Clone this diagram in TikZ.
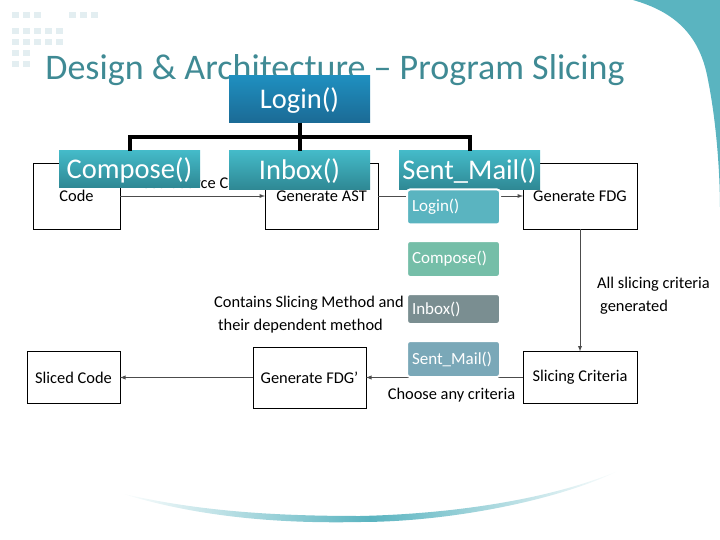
\documentclass[tikz,border=0pt]{standalone}
\usepackage{fontspec}
\setmainfont{Carlito}
\usetikzlibrary{positioning,arrows,backgrounds}
\definecolor{titleteal}{HTML}{3F8A94}
\definecolor{cornerteal}{HTML}{5AB4C0}
\definecolor{dotgrey}{HTML}{E3EEF1}
\definecolor{methodtop}{HTML}{44BAC8}
\definecolor{methodbottom}{HTML}{2E8793}
\definecolor{logintop}{HTML}{1F8FBF}
\definecolor{loginbottom}{HTML}{1B6A95}
\definecolor{listgreen}{HTML}{75BEA8}
\definecolor{listgrey}{HTML}{7A8E91}
\definecolor{listblue}{HTML}{7AA8B8}
\tikzset{%
flowbox/.style={draw,inner sep=0,outer sep=0,line width=0.9pt,font=\fontsize{16.4}{19}\selectfont},
flowline/.style={-latex,line width=0.9pt,draw=black!70},
flowtext/.style={inner sep=0,font=\fontsize{16.4}{23}\selectfont,align=left},
methodbox/.style={minimum width=141pt,minimum height=39pt,inner sep=0,outer sep=0,text=white,text depth=3pt,
  top color=methodtop,bottom color=methodbottom,font=\fontsize{28.5}{32}\selectfont},
listbox/.style={draw=white,line width=2pt,rounded corners=3pt,fill=#1,text=white,inner sep=5pt,outer sep=0,
  text width=83pt,align=left,font=\fontsize{17}{20}\selectfont},
treeline/.style={line width=4pt}
}
\begin{document}
\begin{tikzpicture}[x=1pt,y=-1pt]
  \useasboundingbox (0,0) rectangle (720,540);

  % slide decoration
  \foreach \x in {12,23,34,69,80,91} \fill[dotgrey] (\x,12) rectangle ++(6.5,6);
  \foreach \y in {28,39} \foreach \x in {12,23,34,45,56} \fill[dotgrey] (\x,\y) rectangle ++(6.5,6);
  \foreach \y in {50,61} \foreach \x in {12,23} \fill[dotgrey] (\x,\y) rectangle ++(6.5,6);
  \fill[cornerteal] (633,0) .. controls (675,12) and (700,35) .. (708,80)
    .. controls (716,120) and (720,170) .. (720,210) -- (720,0) -- cycle;
  \shade[left color=white,right color=white,middle color=cornerteal]
    (120,493) .. controls (200,512) and (280,516) .. (360,516)
    .. controls (450,514) and (550,500) .. (620,470)
    .. controls (560,500) and (450,522) .. (360,522)
    .. controls (270,524) and (190,515) .. (120,493) -- cycle;

  \node[inner sep=0,text=titleteal,font=\fontsize{36}{42}\selectfont] (title) at (335,70.5)
    {Design \& Architecture – Program Slicing};

  % flow chart
  \node[flowbox,minimum width=87pt,minimum height=66pt] (code) at (76.5,196) {Code};
  \node[flowbox,minimum width=113pt,minimum height=66pt] (ast) at (321.5,196) {Generate AST};
  \node[flowbox,minimum width=114pt,minimum height=66pt] (fdg) at (580,196) {Generate FDG};
  \node[flowbox,minimum width=114pt,minimum height=52pt] (criteria) at (580,377.5) {Slicing Criteria};
  \node[flowbox,minimum width=113pt,minimum height=61pt] (fdgprime) at (309.5,377.5) {Generate FDG'};
  \node[flowbox,minimum width=93pt,minimum height=52pt] (sliced) at (73.5,377.5) {Sliced Code};

  \draw[flowline] (code) -- (ast);
  \draw[flowline] (ast) -- (fdg);
  \draw[flowline] (fdg) -- (criteria);
  \draw[flowline] (criteria) -- (fdgprime);
  \draw[flowline] (fdgprime) -- (sliced);

  \node[flowtext,anchor=west] (needsource) at (131,183) {Need Source Code};
  \node[flowtext,anchor=west] (contains) at (214,315) {Contains Slicing Method and\\\hspace*{4pt}their dependent method};
  \node[flowtext,anchor=west] (allcriteria) at (597,296) {All slicing criteria\\\hspace*{3pt}generated};
  \node[flowtext] (choose) at (451.5,395.5) {Choose any criteria};

  % method tree
  \node[methodbox,minimum height=47pt,top color=logintop,bottom color=loginbottom] (login) at (299.5,99.5) {Login()};
  \node[methodbox,minimum height=37pt] (compose) at (129.5,169.5) {Compose()};
  \node[methodbox] (inbox) at (299.5,170.5) {Inbox()};
  \node[methodbox] (sent) at (469.5,170.5) {Sent\_Mail()};

  \draw[treeline] (login.south) -- (inbox.north);
  \draw[treeline] (login.south) -- ++(0,14) -| (compose.north);
  \draw[treeline] (login.south) -- ++(0,14) -| (sent.north);

  % method list
  \node[listbox=cornerteal,minimum height=35pt] (listlogin) at (453.5,207) {Login()};
  \node[listbox=listgreen,minimum height=36pt] (listcompose) at (453.5,259) {Compose()};
  \node[listbox=listgrey,minimum height=30pt] (listinbox) at (453.5,309) {Inbox()};
  \node[listbox=listblue,minimum height=36pt] (listsent) at (453.5,359) {Sent\_Mail()};
\end{tikzpicture}
\end{document}
